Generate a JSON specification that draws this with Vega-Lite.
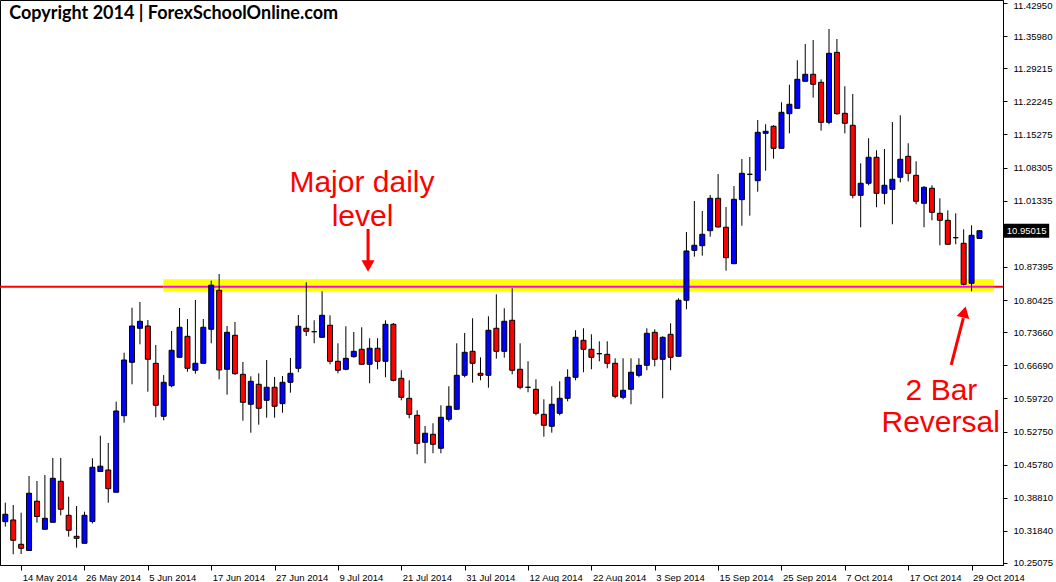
{
"$schema": "https://vega.github.io/schema/vega-lite/v6.json",
"width": 1003, "height": 565,
"autosize": {"type": "none"},
"padding": {"left": 0, "top": 0, "right": 53, "bottom": 17},
"background": "#ffffff",
"config": {"view": {"stroke": "#000000", "strokeWidth": 1}, "axis": {"labelOverlap": false, "labelFlush": false, "labelBound": false}},
"datasets": {
"candles": [
{"d":"2014-05-12","i":0,"o":10.3377,"h":10.3777,"l":10.3272,"c":10.3533},
{"d":"2014-05-13","i":1,"o":10.3413,"h":10.3728,"l":10.2691,"c":10.2985},
{"d":"2014-05-14","i":2,"o":10.2901,"h":10.3566,"l":10.2697,"c":10.2817},
{"d":"2014-05-15","i":3,"o":10.2771,"h":10.4339,"l":10.2760,"c":10.3975},
{"d":"2014-05-16","i":4,"o":10.3808,"h":10.4233,"l":10.3356,"c":10.3486},
{"d":"2014-05-19","i":5,"o":10.3217,"h":10.4360,"l":10.3217,"c":10.3448},
{"d":"2014-05-20","i":6,"o":10.3364,"h":10.4718,"l":10.3364,"c":10.4290},
{"d":"2014-05-21","i":7,"o":10.4227,"h":10.4718,"l":10.3511,"c":10.3638},
{"d":"2014-05-22","i":8,"o":10.3511,"h":10.3903,"l":10.3061,"c":10.3196},
{"d":"2014-05-23","i":9,"o":10.3069,"h":10.3707,"l":10.2830,"c":10.3027},
{"d":"2014-05-26","i":10,"o":10.2922,"h":10.3587,"l":10.2922,"c":10.3511},
{"d":"2014-05-27","i":11,"o":10.3381,"h":10.4711,"l":10.3339,"c":10.4522},
{"d":"2014-05-28","i":12,"o":10.4433,"h":10.5187,"l":10.4429,"c":10.4545},
{"d":"2014-05-29","i":13,"o":10.4465,"h":10.5033,"l":10.3777,"c":10.4071},
{"d":"2014-05-30","i":14,"o":10.3996,"h":10.5903,"l":10.3996,"c":10.5707},
{"d":"2014-06-02","i":15,"o":10.5608,"h":10.6934,"l":10.5461,"c":10.6780},
{"d":"2014-06-03","i":16,"o":10.6732,"h":10.7881,"l":10.6269,"c":10.7496},
{"d":"2014-06-04","i":17,"o":10.7448,"h":10.8001,"l":10.7111,"c":10.7595},
{"d":"2014-06-05","i":18,"o":10.7496,"h":10.7622,"l":10.6113,"c":10.6795},
{"d":"2014-06-06","i":19,"o":10.6711,"h":10.7096,"l":10.5574,"c":10.5827},
{"d":"2014-06-09","i":20,"o":10.5595,"h":10.6465,"l":10.5511,"c":10.6311},
{"d":"2014-06-10","i":21,"o":10.6239,"h":10.7391,"l":10.6206,"c":10.6985},
{"d":"2014-06-11","i":22,"o":10.6837,"h":10.7875,"l":10.6837,"c":10.7469},
{"d":"2014-06-12","i":23,"o":10.7279,"h":10.7643,"l":10.6534,"c":10.6606},
{"d":"2014-06-13","i":24,"o":10.6564,"h":10.8043,"l":10.6492,"c":10.6711},
{"d":"2014-06-16","i":25,"o":10.6711,"h":10.7643,"l":10.6711,"c":10.7469},
{"d":"2014-06-17","i":26,"o":10.7427,"h":10.8450,"l":10.7132,"c":10.8355},
{"d":"2014-06-18","i":27,"o":10.8248,"h":10.8591,"l":10.6374,"c":10.6570},
{"d":"2014-06-19","i":28,"o":10.6585,"h":10.7496,"l":10.6050,"c":10.7363},
{"d":"2014-06-20","i":29,"o":10.7300,"h":10.7580,"l":10.6465,"c":10.6492},
{"d":"2014-06-23","i":30,"o":10.6479,"h":10.6738,"l":10.5503,"c":10.5890},
{"d":"2014-06-24","i":31,"o":10.5848,"h":10.6437,"l":10.5250,"c":10.6332},
{"d":"2014-06-25","i":32,"o":10.6269,"h":10.6500,"l":10.5419,"c":10.5764},
{"d":"2014-06-26","i":33,"o":10.5932,"h":10.6780,"l":10.5566,"c":10.6206},
{"d":"2014-06-27","i":34,"o":10.6206,"h":10.6423,"l":10.5566,"c":10.5806},
{"d":"2014-06-30","i":35,"o":10.5861,"h":10.6444,"l":10.5671,"c":10.6311},
{"d":"2014-07-01","i":36,"o":10.6311,"h":10.6823,"l":10.6092,"c":10.6500},
{"d":"2014-07-02","i":37,"o":10.6606,"h":10.7728,"l":10.6522,"c":10.7490},
{"d":"2014-07-03","i":38,"o":10.7448,"h":10.8416,"l":10.7286,"c":10.7385},
{"d":"2014-07-04","i":39,"o":10.7376,"h":10.7616,"l":10.7132,"c":10.7376},
{"d":"2014-07-07","i":40,"o":10.7258,"h":10.8226,"l":10.7258,"c":10.7721},
{"d":"2014-07-08","i":41,"o":10.7511,"h":10.7721,"l":10.6690,"c":10.6753},
{"d":"2014-07-09","i":42,"o":10.6753,"h":10.7132,"l":10.6500,"c":10.6564},
{"d":"2014-07-10","i":43,"o":10.6585,"h":10.7490,"l":10.6564,"c":10.6816},
{"d":"2014-07-11","i":44,"o":10.6850,"h":10.7370,"l":10.6829,"c":10.6963},
{"d":"2014-07-14","i":45,"o":10.7006,"h":10.7469,"l":10.6690,"c":10.6690},
{"d":"2014-07-15","i":46,"o":10.6690,"h":10.7237,"l":10.6290,"c":10.7027},
{"d":"2014-07-16","i":47,"o":10.7027,"h":10.7237,"l":10.6585,"c":10.6753},
{"d":"2014-07-17","i":48,"o":10.6753,"h":10.7616,"l":10.6416,"c":10.7532},
{"d":"2014-07-18","i":49,"o":10.7532,"h":10.7559,"l":10.6330,"c":10.6353},
{"d":"2014-07-21","i":50,"o":10.6395,"h":10.6564,"l":10.5932,"c":10.5995},
{"d":"2014-07-22","i":51,"o":10.5974,"h":10.6353,"l":10.5553,"c":10.5637},
{"d":"2014-07-23","i":52,"o":10.5616,"h":10.5724,"l":10.4795,"c":10.5027},
{"d":"2014-07-24","i":53,"o":10.5048,"h":10.5391,"l":10.4606,"c":10.5238},
{"d":"2014-07-25","i":54,"o":10.5216,"h":10.5448,"l":10.4817,"c":10.5006},
{"d":"2014-07-28","i":55,"o":10.4922,"h":10.5827,"l":10.4817,"c":10.5574},
{"d":"2014-07-29","i":56,"o":10.5532,"h":10.6227,"l":10.5482,"c":10.5806},
{"d":"2014-07-30","i":57,"o":10.5743,"h":10.7132,"l":10.5743,"c":10.6458},
{"d":"2014-07-31","i":58,"o":10.6458,"h":10.7349,"l":10.6416,"c":10.6942},
{"d":"2014-08-01","i":59,"o":10.6963,"h":10.7658,"l":10.6303,"c":10.6711},
{"d":"2014-08-04","i":60,"o":10.6500,"h":10.6837,"l":10.6353,"c":10.6458},
{"d":"2014-08-05","i":61,"o":10.6458,"h":10.7700,"l":10.6197,"c":10.7406},
{"d":"2014-08-06","i":62,"o":10.7448,"h":10.8163,"l":10.6808,"c":10.6963},
{"d":"2014-08-07","i":63,"o":10.6963,"h":10.7869,"l":10.6829,"c":10.7595},
{"d":"2014-08-08","i":64,"o":10.7616,"h":10.8290,"l":10.6479,"c":10.6564},
{"d":"2014-08-11","i":65,"o":10.6585,"h":10.7132,"l":10.6164,"c":10.6206},
{"d":"2014-08-12","i":66,"o":10.6206,"h":10.6753,"l":10.6101,"c":10.6206},
{"d":"2014-08-13","i":67,"o":10.6164,"h":10.6374,"l":10.5616,"c":10.5658},
{"d":"2014-08-14","i":68,"o":10.5637,"h":10.5953,"l":10.5166,"c":10.5406},
{"d":"2014-08-15","i":69,"o":10.5385,"h":10.6227,"l":10.5250,"c":10.5848},
{"d":"2014-08-18","i":70,"o":10.5658,"h":10.6332,"l":10.5616,"c":10.5974},
{"d":"2014-08-19","i":71,"o":10.5974,"h":10.6585,"l":10.5911,"c":10.6416},
{"d":"2014-08-20","i":72,"o":10.6416,"h":10.7406,"l":10.6353,"c":10.7258},
{"d":"2014-08-21","i":73,"o":10.7195,"h":10.7448,"l":10.6522,"c":10.7006},
{"d":"2014-08-22","i":74,"o":10.7006,"h":10.7321,"l":10.6585,"c":10.6837},
{"d":"2014-08-25","i":75,"o":10.6913,"h":10.7174,"l":10.6753,"c":10.6913},
{"d":"2014-08-26","i":76,"o":10.6900,"h":10.7174,"l":10.6606,"c":10.6711},
{"d":"2014-08-27","i":77,"o":10.6711,"h":10.6816,"l":10.5974,"c":10.6016},
{"d":"2014-08-28","i":78,"o":10.5995,"h":10.6816,"l":10.5953,"c":10.6143},
{"d":"2014-08-29","i":79,"o":10.6164,"h":10.6816,"l":10.5848,"c":10.6522},
{"d":"2014-09-01","i":80,"o":10.6458,"h":10.6816,"l":10.6416,"c":10.6669},
{"d":"2014-09-02","i":81,"o":10.6669,"h":10.7448,"l":10.6564,"c":10.7342},
{"d":"2014-09-03","i":82,"o":10.7363,"h":10.7427,"l":10.6648,"c":10.6795},
{"d":"2014-09-04","i":83,"o":10.6795,"h":10.7279,"l":10.5974,"c":10.7258},
{"d":"2014-09-05","i":84,"o":10.7321,"h":10.7553,"l":10.6564,"c":10.6837},
{"d":"2014-09-08","i":85,"o":10.6858,"h":10.8079,"l":10.6858,"c":10.8037},
{"d":"2014-09-09","i":86,"o":10.8037,"h":10.9475,"l":10.7848,"c":10.9075},
{"d":"2014-09-10","i":87,"o":10.9089,"h":11.0127,"l":10.8955,"c":10.9195},
{"d":"2014-09-11","i":88,"o":10.9186,"h":10.9917,"l":10.8976,"c":10.9426},
{"d":"2014-09-12","i":89,"o":10.9502,"h":11.0253,"l":10.9376,"c":11.0184},
{"d":"2014-09-15","i":90,"o":11.0184,"h":11.0696,"l":10.9574,"c":10.9580},
{"d":"2014-09-16","i":91,"o":10.9574,"h":11.0001,"l":10.8660,"c":10.8934},
{"d":"2014-09-17","i":92,"o":10.8807,"h":11.0443,"l":10.8807,"c":11.0163},
{"d":"2014-09-18","i":93,"o":11.0155,"h":11.1011,"l":10.9607,"c":11.0710},
{"d":"2014-09-19","i":94,"o":11.0689,"h":11.1053,"l":10.9818,"c":11.0689},
{"d":"2014-09-22","i":95,"o":11.0554,"h":11.1832,"l":11.0323,"c":11.1573},
{"d":"2014-09-23","i":96,"o":11.1552,"h":11.1742,"l":11.0765,"c":11.1594},
{"d":"2014-09-24","i":97,"o":11.1700,"h":11.1721,"l":11.1018,"c":11.1236},
{"d":"2014-09-25","i":98,"o":11.1236,"h":11.2205,"l":11.1236,"c":11.1994},
{"d":"2014-09-26","i":99,"o":11.1965,"h":11.2575,"l":11.1552,"c":11.2163},
{"d":"2014-09-29","i":100,"o":11.2078,"h":11.3089,"l":11.2078,"c":11.2689},
{"d":"2014-09-30","i":101,"o":11.2647,"h":11.3432,"l":11.2647,"c":11.2794},
{"d":"2014-10-01","i":102,"o":11.2794,"h":11.3516,"l":11.2302,"c":11.2584},
{"d":"2014-10-02","i":103,"o":11.2626,"h":11.2689,"l":11.1607,"c":11.1784},
{"d":"2014-10-03","i":104,"o":11.1784,"h":11.3748,"l":11.1742,"c":11.3236},
{"d":"2014-10-06","i":105,"o":11.3257,"h":11.3537,"l":11.1944,"c":11.1965},
{"d":"2014-10-07","i":106,"o":11.1973,"h":11.2542,"l":11.1552,"c":11.1763},
{"d":"2014-10-08","i":107,"o":11.1721,"h":11.2379,"l":11.0184,"c":11.0247},
{"d":"2014-10-09","i":108,"o":11.0247,"h":11.0921,"l":10.9574,"c":11.0500},
{"d":"2014-10-10","i":109,"o":11.0500,"h":11.1447,"l":11.0458,"c":11.1047},
{"d":"2014-10-13","i":110,"o":11.1047,"h":11.1194,"l":10.9995,"c":11.0289},
{"d":"2014-10-14","i":111,"o":11.0289,"h":11.1222,"l":11.0058,"c":11.0458},
{"d":"2014-10-15","i":112,"o":11.0373,"h":11.1790,"l":10.9637,"c":11.0584},
{"d":"2014-10-16","i":113,"o":11.0626,"h":11.1931,"l":11.0521,"c":11.1005},
{"d":"2014-10-17","i":114,"o":11.1068,"h":11.1342,"l":11.0542,"c":11.0710},
{"d":"2014-10-20","i":115,"o":11.0668,"h":11.0963,"l":11.0058,"c":11.0121},
{"d":"2014-10-21","i":116,"o":11.0079,"h":11.0437,"l":10.9574,"c":11.0416},
{"d":"2014-10-22","i":117,"o":11.0395,"h":11.0458,"l":10.9721,"c":10.9889},
{"d":"2014-10-23","i":118,"o":10.9868,"h":11.0184,"l":10.9195,"c":10.9721},
{"d":"2014-10-24","i":119,"o":10.9721,"h":10.9931,"l":10.9216,"c":10.9216},
{"d":"2014-10-27","i":120,"o":10.9355,"h":10.9868,"l":10.9216,"c":10.9355},
{"d":"2014-10-28","i":121,"o":10.9237,"h":10.9531,"l":10.8353,"c":10.8374},
{"d":"2014-10-29","i":122,"o":10.8395,"h":10.9616,"l":10.8226,"c":10.9405},
{"d":"2014-10-30","i":123,"o":10.9340,"h":10.9505,"l":10.9335,"c":10.95015}
]
},
"layer": [
{
"data": {"values": [{"level": 10.8323}]},
"mark": {"type": "rule", "color": "#ff0000", "strokeWidth": 2},
"encoding": {
"y": {"field": "level", "type": "quantitative", "scale": {"domain": [10.2465, 11.4358], "nice": false, "zero": false},
"axis": {"orient": "right", "tickCount": 40, "values": [11.4295, 11.3598, 11.29215, 11.22245, 11.15275, 11.08305, 11.01335, 10.87395, 10.80425, 10.7366, 10.6669, 10.5972, 10.5275, 10.4578, 10.3881, 10.3184, 10.25075],
"format": ".5f", "tickSize": 4, "labelPadding": 6, "tickColor": "#000000", "domainColor": "#000000",
"labelOffset": {"condition": {"test": "datum.value > 11.42", "value": 3}, "value": 0},
"labelFont": "Liberation Sans", "labelFontSize": 9.5, "labelColor": "#000000", "labelFlush": false, "labelOverlap": false, "labelBound": false, "grid": false, "title": null}}
}
},
{
"data": {"values": [{"start": 19.96, "end": 124.84, "lo": 10.8218, "hi": 10.8479}]},
"mark": {"type": "rect", "color": "#ffff00"},
"encoding": {
"x": {"field": "start", "type": "quantitative", "scale": {"domain": [-0.0375, 125.3375], "nice": false, "zero": false},
"axis": {"values": [2,10,18,26,34,42,50,58,66,74,82,90,98,106,114,122], "tickCount": 40,
"labelExpr": "['14 May 2014','26 May 2014','5 Jun 2014','17 Jun 2014','27 Jun 2014','9 Jul 2014','21 Jul 2014','31 Jul 2014','12 Aug 2014','22 Aug 2014','3 Sep 2014','15 Sep 2014','25 Sep 2014','7 Oct 2014','17 Oct 2014','29 Oct 2014'][round((datum.value-2)/8)]",
"labelAlign": "left", "labelBaseline": "top", "labelPadding": 2, "labelOffset": 1, "tickSize": 5, "tickColor": "#000000", "domainColor": "#000000",
"labelFont": "Liberation Sans", "labelFontSize": 9.5, "labelColor": "#000000", "labelFlush": false, "labelOverlap": false, "grid": false, "title": null}},
"x2": {"field": "end"},
"y": {"field": "lo", "type": "quantitative", "scale": {"domain": [10.2465, 11.4358], "nice": false, "zero": false}},
"y2": {"field": "hi"}
}
},
{
"data": {"values": [{"start": 19.96, "end": 124.84, "level": 10.8323}]},
"mark": {"type": "rule", "color": "#ff00ff", "strokeWidth": 2},
"encoding": {
"x": {"field": "start", "type": "quantitative", "scale": {"domain": [-0.0375, 125.3375], "nice": false, "zero": false}},
"x2": {"field": "end"},
"y": {"field": "level", "type": "quantitative", "scale": {"domain": [10.2465, 11.4358], "nice": false, "zero": false}}
}
},
{
"data": {"name": "candles"},
"mark": {"type": "rule", "color": "#000000", "strokeWidth": 1},
"encoding": {
"x": {"field": "i", "type": "quantitative", "scale": {"domain": [-0.0375, 125.3375], "nice": false, "zero": false}},
"y": {"field": "l", "type": "quantitative", "scale": {"domain": [10.2465, 11.4358], "nice": false, "zero": false}},
"y2": {"field": "h"}
}
},
{
"data": {"name": "candles"},
"mark": {"type": "bar", "width": 5, "stroke": "#000000", "strokeWidth": 1},
"encoding": {
"x": {"field": "i", "type": "quantitative", "scale": {"domain": [-0.0375, 125.3375], "nice": false, "zero": false}},
"y": {"field": "o", "type": "quantitative", "scale": {"domain": [10.2465, 11.4358], "nice": false, "zero": false}},
"y2": {"field": "c"},
"fill": {"condition": [{"test": "datum.c > datum.o", "value": "#0000ff"}, {"test": "datum.c < datum.o", "value": "#ff0000"}], "value": "#000000"}
}
},
{
"data": {"values": [{"t": "Copyright 2014 | ForexSchoolOnline.com", "x": 0.5, "y": 11.4063}]},
"mark": {"type": "text", "align": "left", "baseline": "middle", "font": "Lato", "fontWeight": "bold", "fontSize": 18, "color": "#000000"},
"encoding": {
"x": {"field": "x", "type": "quantitative", "scale": {"domain": [-0.0375, 125.3375], "nice": false, "zero": false}},
"y": {"field": "y", "type": "quantitative", "scale": {"domain": [10.2465, 11.4358], "nice": false, "zero": false}},
"text": {"field": "t"}
}
},
{
"data": {"values": [
{"t": "Major daily", "x": 45.03, "y": 11.0317},
{"t": "level", "x": 45.1, "y": 10.9601},
{"t": "2 Bar", "x": 118.2, "y": 10.5938},
{"t": "Reversal", "x": 118.1, "y": 10.5265}
]},
"mark": {"type": "text", "align": "center", "baseline": "alphabetic", "font": "Liberation Sans", "fontSize": 30, "color": "#ff0000"},
"encoding": {
"x": {"field": "x", "type": "quantitative", "scale": {"domain": [-0.0375, 125.3375], "nice": false, "zero": false}},
"y": {"field": "y", "type": "quantitative", "scale": {"domain": [10.2465, 11.4358], "nice": false, "zero": false}},
"text": {"field": "t"}
}
},
{
"data": {"values": [
{"x": 45.8, "y": 10.9538, "xe": 45.8, "ye": 10.8843},
{"x": 119.43, "y": 10.6675, "xe": 120.96, "ye": 10.7664}
]},
"mark": {"type": "rule", "color": "#ff0000", "strokeWidth": 3},
"encoding": {
"x": {"field": "x", "type": "quantitative", "scale": {"domain": [-0.0375, 125.3375], "nice": false, "zero": false}},
"y": {"field": "y", "type": "quantitative", "scale": {"domain": [10.2465, 11.4358], "nice": false, "zero": false}},
"x2": {"field": "xe"},
"y2": {"field": "ye"}
}
},
{
"data": {"values": [{"x": 45.8, "y": 10.8759}]},
"mark": {"type": "point", "shape": "triangle-down", "filled": true, "color": "#ff0000", "size": 170, "opacity": 1},
"encoding": {
"x": {"field": "x", "type": "quantitative", "scale": {"domain": [-0.0375, 125.3375], "nice": false, "zero": false}},
"y": {"field": "y", "type": "quantitative", "scale": {"domain": [10.2465, 11.4358], "nice": false, "zero": false}}
}
},
{
"data": {"values": [{"x": 121.08, "y": 10.7791}]},
"mark": {"type": "point", "shape": "triangle-up", "angle": 14, "filled": true, "color": "#ff0000", "size": 170, "opacity": 1},
"encoding": {
"x": {"field": "x", "type": "quantitative", "scale": {"domain": [-0.0375, 125.3375], "nice": false, "zero": false}},
"y": {"field": "y", "type": "quantitative", "scale": {"domain": [10.2465, 11.4358], "nice": false, "zero": false}}
}
},
{
"data": {"values": [{"start": 126.0, "end": 131.8, "lo": 10.9356, "hi": 10.9648}]},
"mark": {"type": "rect", "color": "#000000"},
"encoding": {
"x": {"field": "start", "type": "quantitative", "scale": {"domain": [-0.0375, 125.3375], "nice": false, "zero": false}},
"x2": {"field": "end"},
"y": {"field": "lo", "type": "quantitative", "scale": {"domain": [10.2465, 11.4358], "nice": false, "zero": false}},
"y2": {"field": "hi"}
}
},
{
"data": {"values": [{"t": "10.95015", "x": 126.45, "y": 10.95015}]},
"mark": {"type": "text", "align": "left", "baseline": "middle", "font": "Liberation Sans", "fontSize": 9.5, "color": "#ffffff"},
"encoding": {
"x": {"field": "x", "type": "quantitative", "scale": {"domain": [-0.0375, 125.3375], "nice": false, "zero": false}},
"y": {"field": "y", "type": "quantitative", "scale": {"domain": [10.2465, 11.4358], "nice": false, "zero": false}},
"text": {"field": "t"}
}
}
]
}
